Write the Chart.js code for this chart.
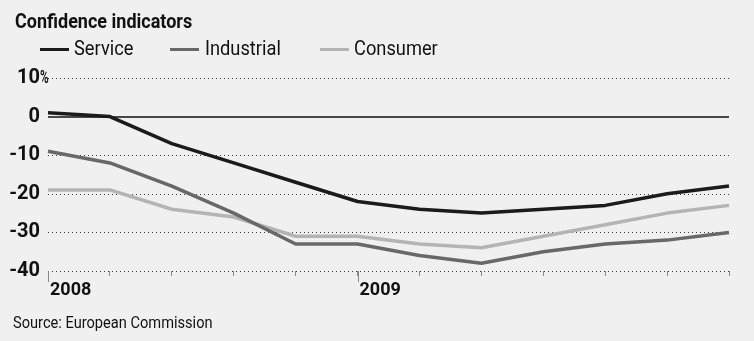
<!DOCTYPE html>
<html><head><meta charset="utf-8">
<script src="https://cdn.jsdelivr.net/npm/chart.js@4.4.0/dist/chart.umd.min.js"></script>
<style>
html,body{margin:0;padding:0;background:#f0f0f0;}
#wrap{position:relative;width:754px;height:341px;overflow:hidden;background:#f0f0f0;font-family:'Roboto',sans-serif;color:#111;}
#c{position:absolute;left:0;top:0;}
#title{position:absolute;left:15px;top:11px;font-size:20px;line-height:20px;font-weight:bold;white-space:nowrap;transform:scaleX(0.9);transform-origin:0 0;}
.lg{position:absolute;top:38px;font-size:21px;line-height:21px;white-space:nowrap;transform:scaleX(0.87);transform-origin:0 0;}
.sw{position:absolute;height:3.5px;top:47.5px;width:29px;}
#source{position:absolute;left:13px;top:314px;font-size:17px;line-height:17px;white-space:nowrap;transform:scaleX(0.86);transform-origin:0 0;}
</style></head><body>
<div id="wrap">
<canvas id="c" width="754" height="341"></canvas>
<div id="title">Confidence indicators</div>
<div id="legend"></div>
<div id="source">Source: European Commission</div>
</div>
<script>
// ---- data ----
const tickLabels = ['2008','','','','','2009','','','','','',''];
const seriesNames = ['Service','Industrial','Consumer'];
const service    = [1, 0, -7, -12, -17, -22, -24, -25, -24, -23, -20, -18];
const industrial = [-9, -12, -18, -25, -33, -33, -36, -38, -35, -33, -32, -30];
const consumer   = [-19, -19, -24, -26, -31, -31, -33, -34, -31, -28, -25, -23];
const yTicks = [10, 0, -10, -20, -30, -40];

const FONT = "'Roboto',sans-serif";
const colors = ['#1b1b1b', '#686868', '#b4b4b4'];

// legend (HTML)
const legendPos = [{sw:40, tx:74}, {sw:170, tx:205}, {sw:320, tx:354}];
const lg = document.getElementById('legend');
seriesNames.forEach((n, i) => {
  const s = document.createElement('div'); s.className = 'sw';
  s.style.left = legendPos[i].sw + 'px'; s.style.background = colors[i]; lg.appendChild(s);
  const t = document.createElement('div'); t.className = 'lg';
  t.style.left = legendPos[i].tx + 'px'; t.textContent = n; lg.appendChild(t);
});

const gridPlugin = {
  id: 'customGrid',
  beforeDatasetsDraw(chart) {
    const {ctx, chartArea: a, scales: {x, y}} = chart;
    ctx.save();
    y.ticks.forEach(t => {
      const py = Math.round(y.getPixelForValue(t.value));
      ctx.beginPath();
      if (t.value === 0) {
        ctx.setLineDash([]); ctx.strokeStyle = '#111'; ctx.lineWidth = 1.6;
        ctx.moveTo(a.left, py); ctx.lineTo(a.right, py);
      } else {
        ctx.setLineDash([1, 3]); ctx.strokeStyle = '#3a3a3a'; ctx.lineWidth = 1;
        ctx.moveTo(a.left, py + 0.5); ctx.lineTo(a.right, py + 0.5);
      }
      ctx.stroke();
    });
    x.ticks.forEach((t, i) => {
      if (tickLabels[i]) {
        const px = Math.round(x.getPixelForTick(i)) + 0.5;
        ctx.setLineDash([]); ctx.strokeStyle = '#888'; ctx.lineWidth = 1;
        ctx.beginPath(); ctx.moveTo(px, a.bottom); ctx.lineTo(px, a.bottom + 11); ctx.stroke();
      }
    });
    ctx.restore();
  },
  afterDraw(chart) {
    const {ctx, scales: {y}} = chart;
    const py = y.getPixelForValue(10);
    ctx.save();
    ctx.translate(y.right - 8, py + 0.5);
    ctx.scale(0.62, 1);
    ctx.font = 'bold 19px ' + FONT; ctx.fillStyle = '#111';
    ctx.textBaseline = 'middle'; ctx.textAlign = 'left';
    ctx.fillText('%', 0, 0);
    ctx.restore();
  }
};

new Chart(document.getElementById('c'), {
  type: 'line',
  data: {
    labels: tickLabels,
    datasets: [service, industrial, consumer].map((d, i) => ({
      label: seriesNames[i], data: d, borderColor: colors[i], backgroundColor: colors[i],
      borderWidth: 3.5, pointRadius: 0, tension: 0, fill: false,
      borderJoinStyle: 'round', borderCapStyle: 'butt'
    }))
  },
  options: {
    responsive: false, animation: false,
    layout: {padding: {top: 78, right: 25, bottom: 38, left: 0}},
    plugins: {legend: {display: false}, tooltip: {enabled: false}, title: {display: false}},
    scales: {
      x: {
        grid: {display: true, drawOnChartArea: false, drawTicks: true, tickLength: 5, tickColor: '#888', lineWidth: 1},
        border: {display: false},
        ticks: {autoSkip: false, maxRotation: 0, minRotation: 0, align: 'start', padding: 4, labelOffset: 2,
                color: '#111', font: {family: FONT, size: 18, weight: 'bold'}},
        afterFit(s) { s.height = 32; }
      },
      y: {
        min: -40, max: 10,
        grid: {display: false, drawTicks: false},
        border: {display: false},
        afterBuildTicks(s) { s.ticks = yTicks.map(v => ({value: v})); },
        ticks: {padding: 8, color: '#111', font: {family: FONT, size: 20, weight: 'bold'},
                callback: v => String(v)},
        afterFit(s) { s.width = 48; }
      }
    }
  },
  plugins: [gridPlugin]
});
</script>
</body></html>
